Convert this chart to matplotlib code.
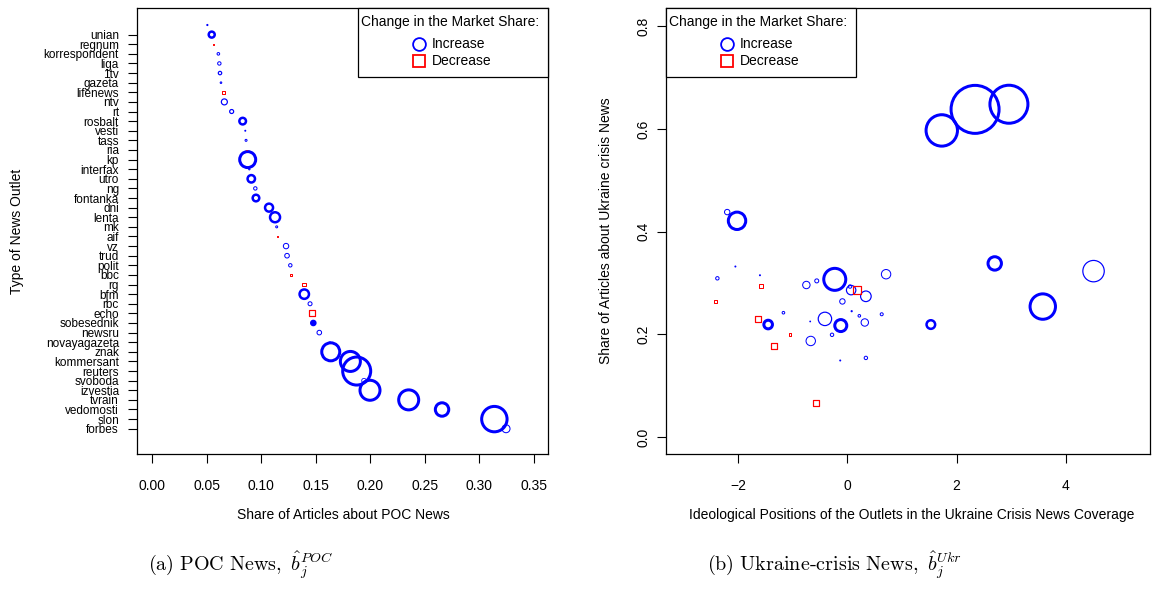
import matplotlib
matplotlib.use("Agg")
import matplotlib.pyplot as plt
from matplotlib.lines import Line2D
from matplotlib.patches import Rectangle
import numpy as np

plt.rcParams['font.family'] = ['Liberation Sans', 'DejaVu Sans']
plt.rcParams['mathtext.fontset'] = 'cm'

# ---------------- data: panel (a) POC news ----------------
outlets = ["", "unian", "regnum", "korrespondent", "liga", "1tv", "gazeta", "lifenews",
           "ntv", "rt", "rosbalt", "vesti", "tass", "ria", "kp", "interfax", "utro", "ng",
           "fontanka", "dni", "lenta", "mk", "aif", "vz", "trud", "polit", "bbc", "rg",
           "bfm", "rbc", "echo", "sobesednik", "newsru", "novayagazeta", "znak",
           "kommersant", "reuters", "svoboda", "izvestia", "tvrain", "vedomosti", "slon",
           "forbes"]
poc_share = [0.0505, 0.0545, 0.0557, 0.0606, 0.0615, 0.0621, 0.0630, 0.0651, 0.0661,
             0.0728, 0.0829, 0.0853, 0.0860, 0.0862, 0.0875, 0.0890, 0.0908, 0.0945,
             0.0951, 0.1071, 0.1126, 0.1141, 0.1144, 0.1227, 0.1236, 0.1266, 0.1270,
             0.1392, 0.1394, 0.1447, 0.1462, 0.1477, 0.1532, 0.1630, 0.1637, 0.1817,
             0.1875, 0.1942, 0.1997, 0.2352, 0.2658, 0.3138, 0.3245]
poc_size = [0.6, 3.0, 0.5, 1.3, 1.7, 1.7, 0.8, 1.3, 3.0, 2.0, 3.3, 0.5, 1.0, 0.3, 8.0,
            0.7, 3.7, 1.7, 3.3, 4.0, 5.0, 1.0, 0.5, 2.7, 2.3, 1.7, 1.2, 1.7, 4.7, 2.0,
            3.0, 1.8, 2.3, 0.4, 9.0, 10.0, 14.0, 2.3, 10.0, 10.0, 6.7, 12.7, 4.0]
poc_width = [1.0, 2.5, 1.0, 1.0, 1.0, 1.2, 1.0, 1.0, 1.2, 1.2, 2.5, 1.0, 1.0, 1.0, 3.0,
             1.0, 2.5, 1.0, 2.5, 2.5, 2.5, 1.0, 1.0, 1.0, 1.0, 1.0, 1.0, 1.0, 2.5, 1.0,
             1.2, 3.0, 1.0, 1.0, 3.0, 3.0, 3.0, 0.8, 3.0, 3.0, 3.0, 3.0, 1.0]
poc_change = [1, 1, -1, 1, 1, 1, 1, -1, 1, 1, 1, 1, 1, -1, 1, 1, 1, 1, 1, 1, 1, 1, -1,
              1, 1, 1, -1, -1, 1, 1, -1, 1, 1, 1, 1, 1, 1, 1, 1, 1, 1, 1, 1]

# ---------------- data: panel (b) Ukraine-crisis news ----------------
ukr_position = [-2.20, -2.02, -2.05, -2.38, -1.60, -1.59, -2.42, -1.64, -1.45, -1.17,
                -1.05, -1.35, -0.75, -0.56, -0.23, 0.05, 0.07, 0.18, 0.34, 0.71,
                -0.09, -0.68, -0.41, -0.12, -0.28, -0.67, 0.08, 0.22, 0.32, 0.63,
                -0.13, 0.34, -0.57, 1.53, 2.70, 3.58, 4.51, 1.73, 2.34, 2.96]
ukr_share = [0.438, 0.421, 0.332, 0.309, 0.315, 0.295, 0.264, 0.229, 0.219, 0.242,
             0.200, 0.178, 0.296, 0.304, 0.307, 0.293, 0.286, 0.286, 0.274, 0.317,
             0.264, 0.225, 0.230, 0.217, 0.199, 0.187, 0.245, 0.236, 0.223, 0.239,
             0.149, 0.154, 0.066, 0.219, 0.338, 0.254, 0.323, 0.597, 0.638, 0.648]
ukr_size = [2.7, 8.7, 0.5, 1.7, 0.5, 2.0, 1.5, 3.0, 4.3, 1.3,
            1.3, 3.0, 3.7, 2.0, 11.0, 1.7, 4.7, 3.7, 5.3, 4.7,
            2.7, 0.4, 6.7, 6.0, 1.7, 4.7, 0.6, 1.3, 3.7, 1.5,
            0.5, 1.7, 3.3, 4.3, 6.7, 12.7, 10.7, 15.7, 24.0, 19.0]
ukr_width = [1.0, 3.0, 1.0, 1.0, 1.0, 1.0, 1.0, 1.2, 3.0, 1.0,
             1.0, 1.2, 1.0, 1.0, 3.0, 1.0, 1.2, 1.2, 1.2, 1.0,
             1.0, 1.0, 1.2, 3.0, 1.0, 1.0, 1.0, 1.0, 1.0, 1.0,
             1.0, 1.0, 1.2, 2.5, 3.0, 3.0, 1.2, 3.0, 3.0, 3.0]
ukr_change = [1, 1, 1, 1, 1, -1, -1, -1, 1, 1,
              -1, -1, 1, 1, 1, 1, 1, -1, 1, 1,
              1, 1, 1, 1, 1, 1, 1, 1, 1, 1,
              1, 1, -1, 1, 1, 1, 1, 1, 1, 1]

legend_title = "Change in the Market Share:"
legend_labels = ["Increase", "Decrease"]
poc_ticks = [0.00, 0.05, 0.10, 0.15, 0.20, 0.25, 0.30, 0.35]
ukr_xticks = [-2, 0, 2, 4]
ukr_yticks = [0.0, 0.2, 0.4, 0.6, 0.8]

BLUE = "#0000FF"
RED = "#FF0000"
W, H = 1153, 590
PX = 0.72  # points per pixel at dpi 100

fig = plt.figure(figsize=(W / 100, H / 100), dpi=100)


def fx(px):
    return px / W


def fy(py):
    return 1 - py / H


def draw_points(ax, x, y, size, width, change):
    x = np.asarray(x); y = np.asarray(y)
    size = np.asarray(size); width = np.asarray(width); change = np.asarray(change)
    s = (2 * size * PX) ** 2
    lw = width * PX
    inc = change > 0
    dec = ~inc
    ax.scatter(x[inc], y[inc], s=s[inc], marker='o', facecolors='none',
               edgecolors=BLUE, linewidths=lw[inc], zorder=3)
    ax.scatter(x[dec], y[dec], s=s[dec], marker='s', facecolors='none',
               edgecolors=RED, linewidths=lw[dec], zorder=3)


def style_axes(ax):
    for sp in ax.spines.values():
        sp.set_linewidth(0.9)
        sp.set_color('black')
    ax.tick_params(direction='out', length=6.5, width=0.8, labelsize=10,
                   colors='black')


def draw_legend(x0, x1, title_x, marker_x, text_x):
    y0, y1 = 8, 77
    fig.add_artist(Rectangle((fx(x0), fy(y1)), fx(x1) - fx(x0), fy(y0) - fy(y1),
                             transform=fig.transFigure, facecolor='white',
                             edgecolor='black', linewidth=0.9, zorder=5))
    fig.text(fx(title_x), fy(21.7), legend_title, fontsize=10, ha='left',
             va='center', zorder=6)
    fig.add_artist(Line2D([fx(marker_x)], [fy(43.5)], marker='o', markersize=9.2,
                          markerfacecolor='none', markeredgecolor=BLUE,
                          markeredgewidth=1.3, transform=fig.transFigure, zorder=6))
    fig.add_artist(Line2D([fx(marker_x)], [fy(61)], marker='s', markersize=8.6,
                          markerfacecolor='none', markeredgecolor=RED,
                          markeredgewidth=1.3, transform=fig.transFigure, zorder=6))
    fig.text(fx(text_x), fy(43.5), legend_labels[0], fontsize=10, ha='left',
             va='center', zorder=6)
    fig.text(fx(text_x), fy(61), legend_labels[1], fontsize=10, ha='left',
             va='center', zorder=6)


# ---------------- panel (a) ----------------
axA = fig.add_axes([fx(137), fy(454), fx(548) - fx(137), fy(8) - fy(454)])
rows = np.arange(len(outlets))
draw_points(axA, poc_share, rows, poc_size, poc_width, poc_change)
axA.set_xlim(-0.01404, 0.3630)
axA.set_ylim(44.63, -1.769)
axA.set_xticks(poc_ticks)
axA.set_xticklabels([f"{t:.2f}" for t in poc_ticks])
axA.set_yticks(rows[1:])
axA.set_yticklabels(outlets[1:], fontsize=8.5)
style_axes(axA)
axA.tick_params(axis='x', pad=11.5)
axA.tick_params(axis='y', pad=6.5, labelsize=8.5)
fig.text(fx(343), fy(515), "Share of Articles about POC News", fontsize=10,
         ha='center', va='center')
fig.text(fx(17), fy(231), "Type of News Outlet", fontsize=10, rotation=90,
         ha='center', va='center')

# ---------------- panel (b) ----------------
axB = fig.add_axes([fx(666), fy(454), fx(1150) - fx(666), fy(8) - fy(454)])
draw_points(axB, ukr_position, ukr_share, ukr_size, ukr_width, ukr_change)
axB.set_xlim(-3.321, 5.544)
axB.set_ylim(-0.0331, 0.8354)
axB.set_xticks(ukr_xticks)
axB.set_xticklabels(["\u22122", "0", "2", "4"])
axB.set_yticks(ukr_yticks)
axB.set_yticklabels([f"{t:.1f}" for t in ukr_yticks])
style_axes(axB)
axB.tick_params(axis='x', pad=11.5)
axB.tick_params(axis='y', pad=5, labelrotation=90)
for lab in axB.get_yticklabels():
    lab.set_va('center')
fig.text(fx(912), fy(515),
         "Ideological Positions of the Outlets in the Ukraine Crisis News Coverage",
         fontsize=10, ha='center', va='center')
fig.text(fx(605.5), fy(231), "Share of Articles about Ukraine crisis News",
         fontsize=10, rotation=90, ha='center', va='center')

# legends
draw_legend(358, 548, 361, 418.5, 432)
draw_legend(666, 856, 669, 727, 740)

# captions
fig.text(fx(240), fy(565), r"$\mathrm{(a)\ POC\ News,}\ \hat{b}_j^{POC}$",
         fontsize=14.5, ha='center', va='center')
fig.text(fx(834), fy(565), r"$\mathrm{(b)\ Ukraine\text{-}crisis\ News,}\ \hat{b}_j^{Ukr}$",
         fontsize=14.5, ha='center', va='center')

fig.savefig("out.png", dpi=100)
